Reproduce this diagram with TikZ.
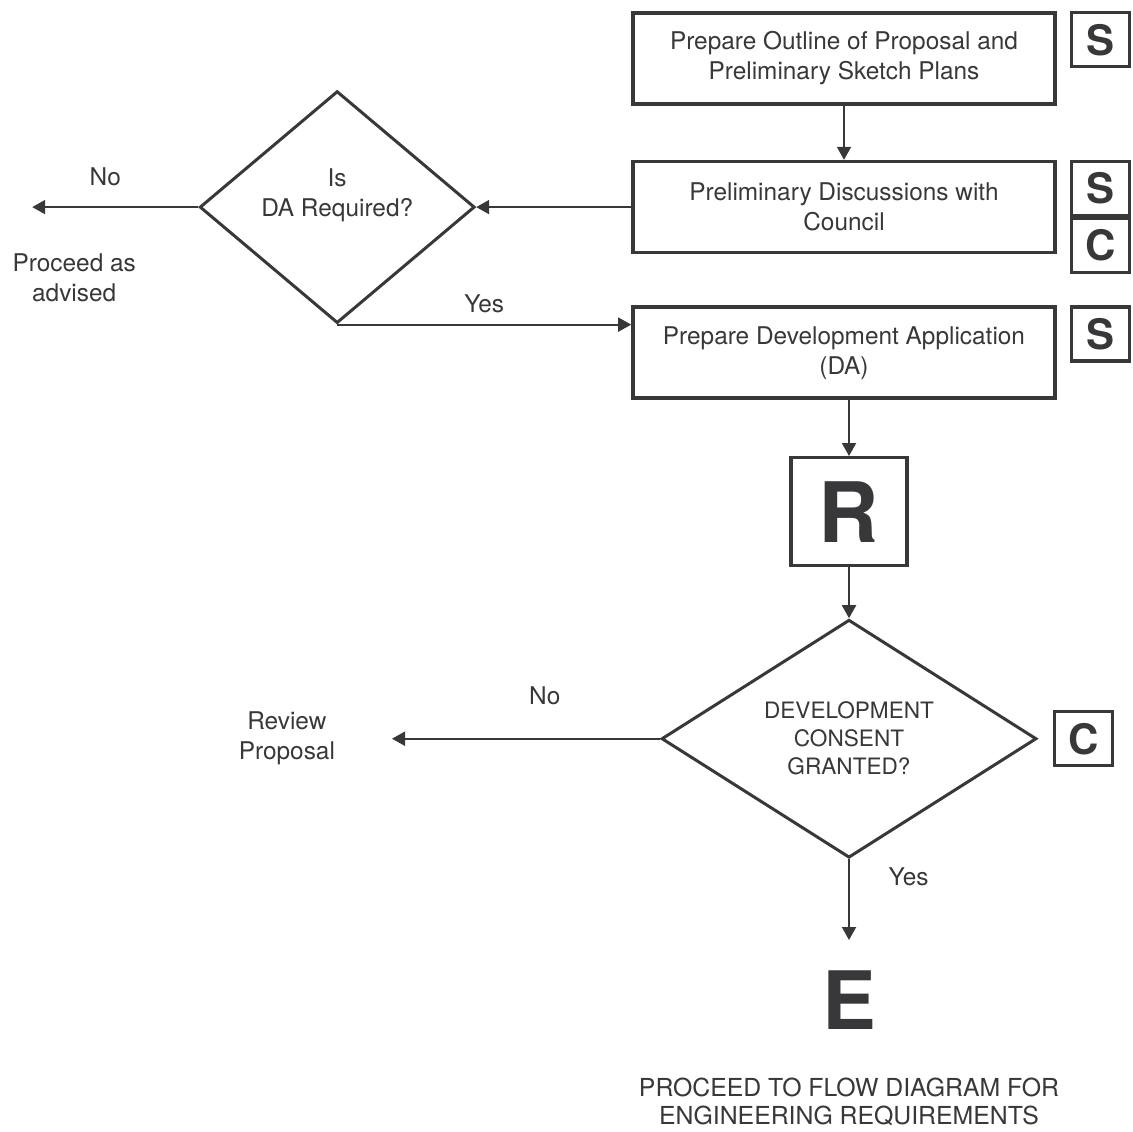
\documentclass[tikz,border=0pt]{standalone}
\usepackage{fontspec}
\setmainfont{TeX Gyre Heros}
\usetikzlibrary{arrows.meta, positioning, shapes.geometric}
\definecolor{ink}{HTML}{38383B}

\begin{document}
\begin{tikzpicture}[
  font=\fontsize{12.2}{15}\selectfont,
  every node/.style={text=ink},
  proc/.style={draw=ink, line width=1.8pt, minimum width=211pt,
               minimum height=45.5pt, align=center},
  badge/.style={draw=ink, line width=1.6pt, minimum width=29pt,
                minimum height=27pt, inner sep=0pt,
                font=\fontsize{21}{21}\selectfont\bfseries},
  decision/.style={diamond, draw=ink, line width=1.5pt, align=center,
                   inner sep=0pt, shape aspect=1.5},
  lbl/.style={align=center},
  flow/.style={-{Triangle[length=6.5pt, width=7pt]}, draw=ink, line width=1pt},
]
\useasboundingbox (0,0) rectangle (566.5pt,-565.5pt);

% main column
\node[proc] (outline) at (422pt,-29.25pt)
  {Prepare Outline of Proposal and\\Preliminary Sketch Plans};
\node[proc, below=27pt of outline] (disc)
  {Preliminary Discussions with\\Council};
\node[proc, below=25.5pt of disc] (dapp)
  {Prepare Development Application\\(DA)};

\node[badge, below right=0pt and 6.5pt of outline.north east] (sout) {S};
\node[badge, below right=0pt and 6.5pt of disc.north east] (sdisc) {S};
\node[badge, below=0pt of sdisc.south, anchor=north] (cdisc) {C};
\node[badge, below right=0pt and 6.5pt of dapp.north east] (sdapp) {S};

\node[badge, below=28pt of dapp.south, xshift=2.5pt, minimum width=58pt,
      minimum height=54pt, font=\fontsize{41.7}{42}\selectfont\bfseries] (review) {R};

\node[decision, below=25.5pt of review, minimum width=187.5pt, minimum height=119pt,
      font=\fontsize{11.3}{14}\selectfont] (granted)
  {DEVELOPMENT\\CONSENT\\GRANTED?};
\node[badge, right=7.5pt of granted] (cgrant) {C};

% DA question
\node[decision, left=77.5pt of disc, minimum width=137.5pt, minimum height=116pt] (isda)
  {Is\\DA Required?\\\mbox{}};
\coordinate[left=83pt of isda] (noda);
\node[lbl, below=20pt of noda, xshift=21pt] (advised) {Proceed as\\advised};

% refusal
\coordinate[left=134pt of granted] (nogrant);
\node[lbl, left=25pt of nogrant] (rethink) {Review\\Proposal};

% engineering
\coordinate[below=40.4pt of granted] (eend);
\node[inner sep=0pt, below=15pt of eend, font=\fontsize{40.3}{40}\selectfont\bfseries] (eng) {E};
\node[lbl, inner sep=0pt, below=24pt of eng, font=\fontsize{12.4}{14}\selectfont] (engnote)
  {PROCEED TO FLOW DIAGRAM FOR\\ENGINEERING REQUIREMENTS};

\draw[flow] (outline) -- (disc);
\draw[flow] (disc) -- (isda);
\draw[flow] (isda) -- node[lbl, above=7pt, pos=0.56] {No} (noda);
\draw[flow] (isda.south) -- node[lbl, above=2pt] {Yes} (isda.south -| dapp.west);
\draw[flow] (dapp.south -| review.north) -- (review.north);
\draw[flow] (review) -- (granted);
\draw[flow] (granted) -- node[lbl, above=13pt, pos=0.43] {No} (nogrant);
\draw[flow] (granted) -- node[lbl, pos=0.22, right=16pt] {Yes} (eend);

\end{tikzpicture}
\end{document}
